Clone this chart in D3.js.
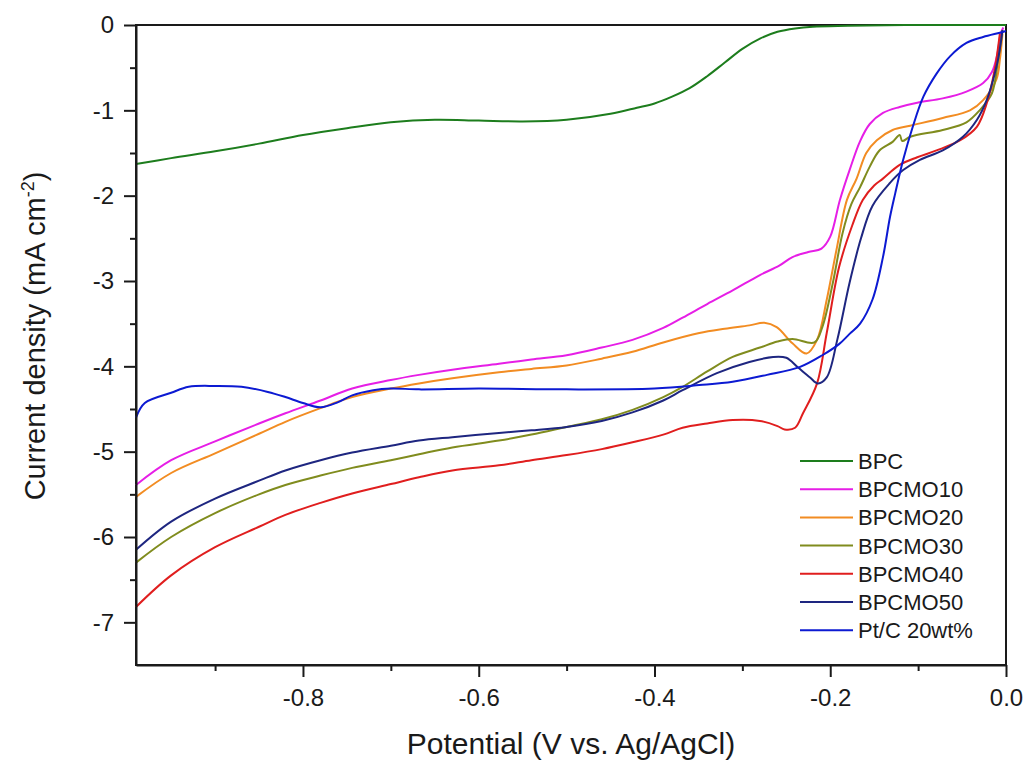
<!DOCTYPE html>
<html><head><meta charset="utf-8">
<script src="https://cdn.jsdelivr.net/npm/d3@7"></script>
<style>
body{margin:0;background:#fff;}
svg text{font-family:"Liberation Sans",Arial,sans-serif;fill:#1a1a1a;}
</style></head>
<body><svg id="c" width="1028" height="767"></svg>
<script>
// ---- data (Potential V, current density mA cm^-2) ----
const seriesNames = ["BPC","BPCMO10","BPCMO20","BPCMO30","BPCMO40","BPCMO50","Pt/C 20wt%"];
const seriesColors = ["#1d7d1d","#e61ee6","#f28c22","#808c1e","#e01e1e","#1e2680","#0c1ad2"];
const xTicks = [-0.8,-0.6,-0.4,-0.2,0.0];
const xMinor = [-0.9,-0.7,-0.5,-0.3,-0.1];
const yTicks = [0,-1,-2,-3,-4,-5,-6,-7];
const yMinor = [-0.5,-1.5,-2.5,-3.5,-4.5,-5.5,-6.5];

const BPC = [[-0.99,-1.63],[-0.95,-1.56],[-0.9,-1.48],[-0.85,-1.39],[-0.8,-1.29],[-0.75,-1.21],[-0.7,-1.14],[-0.65,-1.11],[-0.6,-1.12],[-0.55,-1.13],[-0.5,-1.11],[-0.45,-1.04],[-0.42,-0.97],[-0.4,-0.92],[-0.38,-0.84],[-0.36,-0.74],[-0.34,-0.60],[-0.32,-0.44],[-0.30,-0.28],[-0.28,-0.16],[-0.26,-0.08],[-0.24,-0.04],[-0.22,-0.02],[-0.18,-0.01],[-0.1,0],[0,0]];
const BPCMO10 = [[-0.99,-5.39],[-0.95,-5.10],[-0.9,-4.88],[-0.85,-4.67],[-0.82,-4.55],[-0.78,-4.40],[-0.744,-4.26],[-0.7,-4.16],[-0.668,-4.10],[-0.63,-4.04],[-0.577,-3.97],[-0.54,-3.92],[-0.5,-3.87],[-0.46,-3.78],[-0.425,-3.69],[-0.39,-3.55],[-0.368,-3.43],[-0.34,-3.27],[-0.311,-3.11],[-0.28,-2.93],[-0.258,-2.82],[-0.243,-2.72],[-0.225,-2.66],[-0.21,-2.62],[-0.2,-2.48],[-0.189,-2.05],[-0.178,-1.70],[-0.166,-1.36],[-0.155,-1.16],[-0.14,-1.03],[-0.121,-0.96],[-0.101,-0.91],[-0.072,-0.86],[-0.045,-0.78],[-0.026,-0.68],[-0.016,-0.55],[-0.01,-0.35],[-0.006,-0.10],[-0.003,-0.03]];
const BPCMO20 = [[-0.99,-5.53],[-0.95,-5.25],[-0.9,-5.02],[-0.85,-4.79],[-0.82,-4.65],[-0.78,-4.49],[-0.744,-4.36],[-0.7,-4.26],[-0.668,-4.20],[-0.63,-4.14],[-0.577,-4.07],[-0.54,-4.03],[-0.5,-3.99],[-0.46,-3.91],[-0.425,-3.83],[-0.39,-3.72],[-0.349,-3.61],[-0.32,-3.56],[-0.292,-3.52],[-0.275,-3.49],[-0.261,-3.54],[-0.243,-3.73],[-0.227,-3.85],[-0.215,-3.69],[-0.204,-3.22],[-0.193,-2.64],[-0.181,-2.05],[-0.17,-1.80],[-0.159,-1.50],[-0.147,-1.35],[-0.129,-1.23],[-0.109,-1.18],[-0.072,-1.09],[-0.041,-1.00],[-0.026,-0.88],[-0.011,-0.64],[-0.007,-0.41],[-0.004,-0.10]];
const BPCMO30 = [[-0.99,-6.30],[-0.95,-6.00],[-0.9,-5.72],[-0.85,-5.50],[-0.82,-5.39],[-0.78,-5.28],[-0.744,-5.19],[-0.7,-5.10],[-0.668,-5.03],[-0.63,-4.95],[-0.577,-4.87],[-0.54,-4.80],[-0.5,-4.71],[-0.46,-4.62],[-0.425,-4.51],[-0.39,-4.36],[-0.368,-4.24],[-0.34,-4.06],[-0.311,-3.89],[-0.28,-3.78],[-0.26,-3.71],[-0.243,-3.68],[-0.218,-3.72],[-0.209,-3.54],[-0.197,-3.02],[-0.186,-2.44],[-0.176,-2.10],[-0.166,-1.90],[-0.155,-1.66],[-0.144,-1.47],[-0.129,-1.37],[-0.121,-1.29],[-0.118,-1.36],[-0.109,-1.31],[-0.072,-1.23],[-0.045,-1.14],[-0.03,-1.00],[-0.016,-0.80],[-0.009,-0.41],[-0.004,-0.06]];
const BPCMO40 = [[-0.99,-6.82],[-0.95,-6.45],[-0.9,-6.12],[-0.85,-5.88],[-0.82,-5.74],[-0.78,-5.60],[-0.744,-5.49],[-0.7,-5.38],[-0.668,-5.30],[-0.63,-5.22],[-0.577,-5.16],[-0.54,-5.10],[-0.5,-5.04],[-0.46,-4.97],[-0.425,-4.89],[-0.39,-4.80],[-0.368,-4.72],[-0.34,-4.67],[-0.311,-4.63],[-0.28,-4.64],[-0.26,-4.70],[-0.252,-4.74],[-0.24,-4.72],[-0.231,-4.55],[-0.215,-4.20],[-0.204,-3.61],[-0.19,-2.84],[-0.175,-2.35],[-0.163,-2.05],[-0.15,-1.88],[-0.14,-1.80],[-0.121,-1.64],[-0.101,-1.55],[-0.079,-1.47],[-0.052,-1.35],[-0.033,-1.19],[-0.022,-0.92],[-0.013,-0.53],[-0.007,-0.10]];
const BPCMO50 = [[-0.99,-6.15],[-0.95,-5.82],[-0.9,-5.55],[-0.85,-5.34],[-0.82,-5.22],[-0.78,-5.10],[-0.744,-5.01],[-0.7,-4.93],[-0.668,-4.87],[-0.63,-4.83],[-0.577,-4.78],[-0.54,-4.75],[-0.5,-4.71],[-0.46,-4.64],[-0.425,-4.54],[-0.39,-4.40],[-0.368,-4.28],[-0.329,-4.08],[-0.292,-3.95],[-0.265,-3.89],[-0.25,-3.90],[-0.237,-4.01],[-0.223,-4.13],[-0.214,-4.20],[-0.204,-4.13],[-0.192,-3.69],[-0.178,-3.02],[-0.165,-2.50],[-0.152,-2.12],[-0.132,-1.85],[-0.117,-1.70],[-0.098,-1.58],[-0.072,-1.47],[-0.049,-1.31],[-0.033,-1.11],[-0.022,-0.88],[-0.01,-0.45],[-0.004,-0.06]];
const PtC = [[-0.99,-4.60],[-0.98,-4.43],[-0.95,-4.31],[-0.93,-4.24],[-0.9,-4.23],[-0.87,-4.24],[-0.84,-4.30],[-0.82,-4.36],[-0.8,-4.43],[-0.78,-4.48],[-0.76,-4.42],[-0.744,-4.34],[-0.72,-4.28],[-0.7,-4.26],[-0.668,-4.27],[-0.6,-4.26],[-0.5,-4.27],[-0.4,-4.26],[-0.349,-4.22],[-0.311,-4.18],[-0.272,-4.10],[-0.235,-4.01],[-0.209,-3.87],[-0.19,-3.74],[-0.178,-3.62],[-0.166,-3.50],[-0.152,-3.22],[-0.14,-2.72],[-0.132,-2.25],[-0.126,-1.97],[-0.117,-1.58],[-0.106,-1.19],[-0.094,-0.84],[-0.079,-0.57],[-0.064,-0.37],[-0.045,-0.21],[-0.026,-0.14],[-0.007,-0.09],[0,-0.07]];
const seriesData = [BPC,BPCMO10,BPCMO20,BPCMO30,BPCMO40,BPCMO50,PtC];

// ---- layout ----
const L=136, R=1006, T=25, B=665;
const svg = d3.select("#c");
const x = d3.scaleLinear().domain([-0.99,0.0]).range([L,R]);
const y = d3.scaleLinear().domain([-7.5,0]).range([B,T]);

// frame
svg.append("rect").attr("x",L).attr("y",T).attr("width",R-L).attr("height",B-T)
  .attr("fill","none").attr("stroke","#1a1a1a").attr("stroke-width",2);

// lines
const line = d3.line().x(d=>x(d[0])).y(d=>y(d[1])).curve(d3.curveMonotoneX);
const lineB = d3.line().x(d=>x(d[0])).y(d=>y(d[1])).curve(d3.curveCatmullRom.alpha(0.5));
const plot = svg.append("g");
seriesData.forEach((s,i)=>{
  plot.append("path").datum(s).attr("d",lineB).attr("fill","none")
    .attr("stroke",seriesColors[i]).attr("stroke-width",2);
});

// axes
function styleAxis(g){
  g.select(".domain").attr("stroke","#1a1a1a").attr("stroke-width",2);
  g.selectAll(".tick line").attr("stroke","#1a1a1a").attr("stroke-width",2);
}
const gx = svg.append("g").attr("transform",`translate(0,${B})`)
  .call(d3.axisBottom(x).tickValues(xTicks).tickFormat(d3.format(".1f")).tickSize(12).tickSizeOuter(0).tickPadding(12));
styleAxis(gx);
gx.selectAll("text").attr("font-size",24).style("font-family","'Liberation Sans',Arial,sans-serif").attr("fill","#1a1a1a");
gx.selectAll("text").text(d=> d===0 ? "0.0" : d3.format(".1f")(d).replace("−","-"));
const gxm = svg.append("g").attr("transform",`translate(0,${B})`)
  .call(d3.axisBottom(x).tickValues(xMinor).tickFormat("").tickSize(6).tickSizeOuter(0));
styleAxis(gxm); gxm.select(".domain").remove();

const gy = svg.append("g").attr("transform",`translate(${L},0)`)
  .call(d3.axisLeft(y).tickValues(yTicks).tickFormat(d=> d===0?"0":String(d)).tickSize(12).tickSizeOuter(0).tickPadding(10));
styleAxis(gy);
gy.selectAll("text").attr("font-size",24).style("font-family","'Liberation Sans',Arial,sans-serif").attr("fill","#1a1a1a");
const gym = svg.append("g").attr("transform",`translate(${L},0)`)
  .call(d3.axisLeft(y).tickValues(yMinor).tickFormat("").tickSize(6).tickSizeOuter(0));
styleAxis(gym); gym.select(".domain").remove();

// axis titles
svg.append("text").attr("x",571).attr("y",754).attr("text-anchor","middle")
  .attr("font-size",30).text("Potential (V vs. Ag/AgCl)");
const yt = svg.append("text").attr("transform","translate(45,336) rotate(-90)")
  .attr("text-anchor","middle").attr("font-size",29);
yt.append("tspan").text("Current density (mA cm");
yt.append("tspan").attr("font-size",18).attr("dy",-11).text("-2");
yt.append("tspan").attr("dy",11).text(")");

// legend
const lg = svg.append("g");
seriesNames.forEach((n,i)=>{
  const yy = 461 + i*28.2;
  lg.append("line").attr("x1",800).attr("x2",853).attr("y1",yy).attr("y2",yy)
    .attr("stroke",seriesColors[i]).attr("stroke-width",2);
  lg.append("text").attr("x",858).attr("y",yy+8).attr("font-size",22).text(n);
});
</script></body></html>
